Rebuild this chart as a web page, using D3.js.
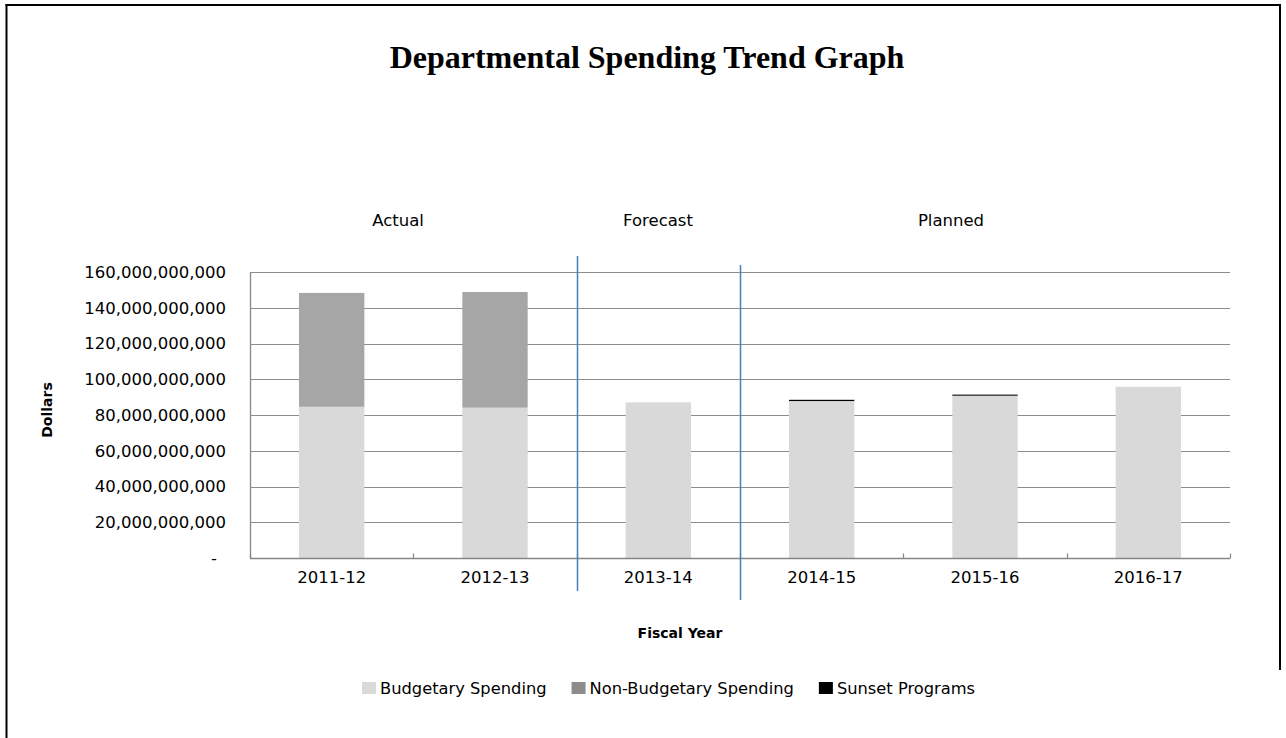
<!DOCTYPE html>
<html>
<head>
<meta charset="utf-8">
<script src="https://cdn.jsdelivr.net/npm/d3@7"></script>
<style>
  html, body { margin: 0; padding: 0; background: #fff; }
  svg { display: block; }
  text { font-family: "DejaVu Sans", Verdana, sans-serif; fill: #000; }
</style>
</head>
<body>
<svg></svg>
<script>
// data
const years = ["2011-12", "2012-13", "2013-14", "2014-15", "2015-16", "2016-17"];
const budgetary = [84.6e9, 84.1e9, 87.1e9, 87.8e9, 90.8e9, 95.8e9];
const nonBudgetary = [63.7e9, 64.7e9, 0, 0, 0, 0];
const sunset = [0, 0, 0, 0.7e9, 0.6e9, 0];
const seriesNames = ["Budgetary Spending", "Non-Budgetary Spending", "Sunset Programs"];
const sections = ["Actual", "Forecast", "Planned"];
const yTicks = [0, 20e9, 40e9, 60e9, 80e9, 100e9, 120e9, 140e9, 160e9];

const colors = ["#d9d9d9", "#a6a6a6", "#000000"];
const legendColors = ["#d9d9d9", "#8c8c8c", "#000000"];

const width = 1286;
const height = 738;
const margin = { left: 250, right: 56, top: 272, bottom: 180 };

const svg = d3.select("svg").attr("width", width).attr("height", height);

// frame
svg.append("line").attr("x1", 6.5).attr("x2", 6.5).attr("y1", 4).attr("y2", height)
  .attr("stroke", "#000").attr("stroke-width", 2);
svg.append("line").attr("x1", 5.5).attr("x2", 1281).attr("y1", 5).attr("y2", 5)
  .attr("stroke", "#000").attr("stroke-width", 2);
svg.append("line").attr("x1", 1280).attr("x2", 1280).attr("y1", 4).attr("y2", 670)
  .attr("stroke", "#000").attr("stroke-width", 2);

// title
svg.append("text")
  .attr("x", 647)
  .attr("y", 68)
  .attr("text-anchor", "middle")
  .style("font-family", "'Liberation Serif', 'Times New Roman', serif")
  .style("font-weight", "bold")
  .style("font-size", "32px")
  .text("Departmental Spending Trend Graph");

const x = d3.scaleBand()
  .domain(years)
  .range([margin.left, width - margin.right])
  .paddingInner(0.6)
  .paddingOuter(0.3);

const y = d3.scaleLinear()
  .domain([0, 160e9])
  .range([height - margin.bottom, margin.top]);

// category boundaries
const boundScale = d3.scaleLinear()
  .domain([0, years.length])
  .range([margin.left, width - margin.right]);

// gridlines
svg.append("g")
  .selectAll("line")
  .data(yTicks.slice(1))
  .join("line")
  .attr("x1", margin.left)
  .attr("x2", width - margin.right)
  .attr("y1", (d) => Math.round(y(d)) + 0.5)
  .attr("y2", (d) => Math.round(y(d)) + 0.5)
  .attr("stroke", "#8c8c8c")
  .attr("stroke-width", 1.2);

// y axis
const fmt = d3.format(",");
const y_axis = d3.axisLeft(y)
  .tickValues(yTicks)
  .tickSize(0)
  .tickPadding(24)
  .tickFormat((d) => (d === 0 ? "-" : fmt(d)));

const yg = svg.append("g")
  .attr("transform", `translate(${margin.left},0)`)
  .call(y_axis);
yg.select(".domain").remove();
yg.selectAll(".tick text")
  .style("font-size", "16.5px")
  .style("font-family", "'DejaVu Sans', sans-serif")
  .attr("fill", "#000")
  .attr("dx", (d) => (d === 0 ? -9 : 0));

// stacked bars
const stackData = years.map((yr, i) => ({
  year: yr,
  b: budgetary[i],
  n: nonBudgetary[i],
  s: sunset[i],
}));
const layers = d3.stack().keys(["b", "n", "s"])(stackData);

svg.append("g")
  .selectAll("g")
  .data(layers)
  .join("g")
  .attr("fill", (d, i) => colors[i])
  .selectAll("rect")
  .data((d) => d)
  .join("rect")
  .attr("x", (d) => x(d.data.year))
  .attr("width", x.bandwidth())
  .attr("y", (d) => y(d[1]))
  .attr("height", (d) => y(d[0]) - y(d[1]));

// axis lines
const baseY = Math.round(y(0)) + 0.5;
svg.append("line")
  .attr("x1", margin.left + 0.5).attr("x2", margin.left + 0.5)
  .attr("y1", y(160e9)).attr("y2", baseY)
  .attr("stroke", "#868686").attr("stroke-width", 1.3);
svg.append("line")
  .attr("x1", margin.left).attr("x2", width - margin.right)
  .attr("y1", baseY).attr("y2", baseY)
  .attr("stroke", "#868686").attr("stroke-width", 1.3);

// inside tick marks at category boundaries
svg.append("g")
  .selectAll("line")
  .data(d3.range(years.length + 1))
  .join("line")
  .attr("x1", (d) => Math.round(boundScale(d)) + 0.5)
  .attr("x2", (d) => Math.round(boundScale(d)) + 0.5)
  .attr("y1", baseY - 5)
  .attr("y2", baseY)
  .attr("stroke", "#868686")
  .attr("stroke-width", 1.2);

// x labels
svg.append("g")
  .selectAll("text")
  .data(years)
  .join("text")
  .attr("x", (d) => x(d) + x.bandwidth() / 2)
  .attr("y", 583)
  .attr("text-anchor", "middle")
  .style("font-size", "16.5px")
  .text((d) => d);

// section dividers
const dividers = [
  { at: 2, y1: 256, y2: 591 },
  { at: 3, y1: 265, y2: 600 },
];
svg.append("g")
  .selectAll("line")
  .data(dividers)
  .join("line")
  .attr("x1", (d) => Math.round(boundScale(d.at)) + 0.5)
  .attr("x2", (d) => Math.round(boundScale(d.at)) + 0.5)
  .attr("y1", (d) => d.y1)
  .attr("y2", (d) => d.y2)
  .attr("stroke", "#4a7ebb")
  .attr("stroke-width", 1.5);

// section labels
const sectionX = [398, 658, 951];
svg.append("g")
  .selectAll("text")
  .data(sections)
  .join("text")
  .attr("x", (d, i) => sectionX[i])
  .attr("y", 226)
  .attr("text-anchor", "middle")
  .style("font-size", "16.5px")
  .text((d) => d);

// axis titles
svg.append("text")
  .attr("text-anchor", "middle")
  .attr("transform", `translate(52, 410) rotate(-90)`)
  .style("font-size", "14px")
  .style("font-weight", "bold")
  .text("Dollars");

svg.append("text")
  .attr("x", 680)
  .attr("y", 638)
  .attr("text-anchor", "middle")
  .style("font-size", "14px")
  .style("font-weight", "bold")
  .text("Fiscal Year");

// legend
const legend = svg.append("g").attr("transform", "translate(362, 694)");
let lx = 0;
seriesNames.forEach((name, i) => {
  const g = legend.append("g").attr("transform", `translate(${lx},0)`);
  g.append("rect")
    .attr("x", 0)
    .attr("y", -12)
    .attr("width", 14)
    .attr("height", 12)
    .attr("fill", legendColors[i]);
  const t = g.append("text")
    .attr("x", 18)
    .attr("y", 0)
    .style("font-size", "16.3px")
    .text(name);
  lx += 18 + t.node().getComputedTextLength() + 25;
});
</script>
</body>
</html>
